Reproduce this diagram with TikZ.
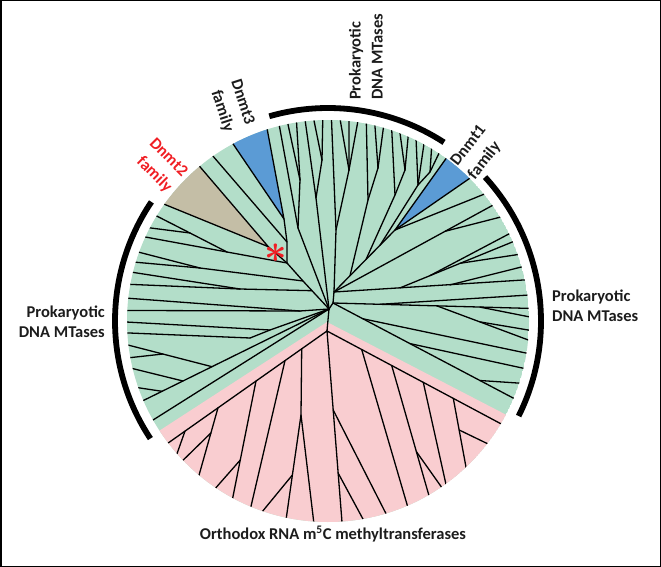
\documentclass[tikz,border=0pt]{standalone}
\usepackage{fontspec}
\setmainfont{Carlito}
\usetikzlibrary{calc}
\definecolor{grn}{RGB}{179,222,201}
\definecolor{pnk}{RGB}{249,205,208}
\definecolor{blu}{RGB}{91,155,213}
\definecolor{tanw}{RGB}{196,190,166}
\definecolor{redl}{RGB}{240,30,36}
\definecolor{ink}{RGB}{28,28,28}
\newcommand\lfat[2]{\path (O) ++(#2:201pt) coordinate (#1);}
\begin{document}
\begin{tikzpicture}[x=1pt,y=-1pt,
  br/.style={line width=1.3pt, black, line cap=round, line join=round},
  lf/.style={br, shorten >=-7pt},
  bracket/.style={line width=5.8pt, black},
  lab/.style={font=\fontsize{16.5}{20}\selectfont\bfseries, text=ink, inner sep=0pt},
  rlab/.style={font=\fontsize{16.5}{22}\selectfont\bfseries, text=ink, inner sep=0pt}]
\useasboundingbox (0,0) rectangle (661,567);
\draw[line width=1.5pt] (0.75,0.75) rectangle (660.25,566.25);
\coordinate (O) at (328,321);
% core
\coordinate (R0) at (329,309);
\coordinate (Rr) at (333,303);
\coordinate (UR0) at (334,292);
\coordinate (P) at (327,331);
% pink clade
\coordinate (PL) at (170,441.7);
\coordinate (B1) at (301.7,348.8);
\coordinate (B1a) at (301,415);
\coordinate (B1b) at (292.4,475);
\coordinate (B2) at (285,360.6);
\coordinate (B3) at (256,381);
\coordinate (B3a) at (240.3,460);
\coordinate (B4) at (218,407.8);
\coordinate (B4a) at (210.9,433);
\coordinate (B5) at (185,431.1);
\coordinate (pk1) at (313.3,518.3);
\coordinate (pk2) at (286.7,515);
\coordinate (pk3) at (265,508.3);
\coordinate (pk4) at (251.7,503.3);
\coordinate (pk5) at (233.3,495);
\coordinate (pk6) at (218.3,485);
\coordinate (pk7) at (200,471.7);
\coordinate (pk8) at (185,458.3);
\coordinate (pk9) at (178.3,450);
\coordinate (pkc) at (341.7,518.3);
\coordinate (Cc1) at (333.2,410);
\coordinate (Cc2) at (338.1,473);
\coordinate (pk10) at (385,511.7);
\coordinate (pk11) at (361.7,516.7);
\coordinate (PR) at (500,423.3);
\coordinate (R1) at (361.7,349.5);
\coordinate (R2) at (391.7,365.5);
\coordinate (R2a) at (416.4,451.7);
\coordinate (R3) at (423.3,382.4);
\coordinate (R4) at (453.3,398.4);
\coordinate (R4a) at (459.2,430);
\coordinate (pk12) at (406.7,503.3);
\coordinate (pk13) at (428.3,493.3);
\coordinate (pk14) at (440,485);
\coordinate (pk15) at (445,480);
\coordinate (pk16) at (465,461.7);
\coordinate (pk17) at (486.7,443.3);
% upper left
\coordinate (Tn) at (268.3,246.7);
\coordinate (M2) at (287,263);
\coordinate (M1) at (303,281);
\coordinate (Mx) at (312,290.7);
\coordinate (D1n) at (287,242);
\coordinate (B3ap) at (284,219);
\coordinate (Na) at (227,252);
\coordinate (Nb) at (190,233);
\coordinate (Nd) at (200,268);
\coordinate (Ne) at (240,289);
\coordinate (H0) at (300,311);
\coordinate (H1) at (270,330);
\coordinate (H2) at (250,338);
\coordinate (Q1) at (212,366.7);
\coordinate (Q1b) at (163,354);
\coordinate (Q2) at (183,381);
\coordinate (Q3) at (162,391.3);
\lfat{l125}{124.9}\lfat{l148}{148.5}\lfat{l152}{152.4}\lfat{l155}{155.3}
\lfat{l160}{160}\lfat{l163}{163}\lfat{l166}{166}\lfat{l169}{169.5}
\lfat{l173}{173.5}\lfat{l177}{177}\lfat{l180}{180.3}\lfat{l183}{183.4}
\lfat{l187}{186.9}\lfat{l190}{190.5}\lfat{l194}{193.7}\lfat{l199}{199.4}
\lfat{l203}{203.3}\lfat{l209}{209.5}
% top
\lfat{ta}{104}\lfat{tb}{101.5}\lfat{tc}{99}\lfat{td}{96.5}\lfat{te}{94}
\lfat{tf}{91.5}\lfat{tg}{89}\lfat{th}{86.5}\lfat{ti}{84}\lfat{tj}{81.5}
\lfat{tk}{79}\lfat{tl}{76.5}\lfat{tm}{74}\lfat{tn}{71.5}\lfat{to}{69}
\lfat{tp}{66.5}\lfat{tq}{64}\lfat{tr}{61.5}\lfat{ts}{59}\lfat{tt}{56.5}
\coordinate (Tl) at (298,228);
\coordinate (Tl2) at (300,180);
\coordinate (Tm) at (316,198);
\coordinate (Tm2) at (322,160);
\coordinate (Tr) at (336,230);
\coordinate (Tr2) at (349,170);
\coordinate (U1) at (395,230);
\coordinate (Ua) at (350,275.7);
\coordinate (Ub) at (366,259.5);
\coordinate (Uc) at (380,245.3);
\coordinate (Ua2) at (368,200);
\coordinate (Ua3) at (378,168);
\coordinate (Ub2) at (395,195);
\coordinate (Ub3) at (405,170);
\coordinate (Uc2) at (418,185);
\coordinate (Uc3) at (430,172);
% right
\lfat{r39}{39.1}\lfat{r35}{35.1}\lfat{r31}{31.1}\lfat{r26}{25.7}\lfat{r23}{23.2}
\lfat{r19}{19.3}\lfat{r16}{15.6}\lfat{r12}{11.8}\lfat{r7}{7.4}\lfat{r4}{3.6}
\lfat{r1}{1.2}\lfat{rm3}{-2.6}\lfat{rm5}{-5.4}\lfat{rm9}{-9.2}\lfat{rm14}{-13.6}
\lfat{rm18}{-18}\lfat{rm23}{-22.6}
\coordinate (Va) at (445,231.3);
\coordinate (Wb1) at (400,287.9);
\coordinate (Wb2) at (450,284.9);
\coordinate (Wc) at (430,275.6);
\coordinate (Wd) at (460,263.3);
\coordinate (Hn0) at (380,304.3);
\coordinate (Hn1) at (437,305.9);
\coordinate (Hn1b) at (480,321.9);
\coordinate (Hn4) at (480,307.1);
\coordinate (On1) at (363,318.8);
\coordinate (On2) at (410,343.6);
\coordinate (On3) at (480,380.5);
% wedge corners
\lfat{d1c1}{54}\lfat{d1c2}{45.2}
\lfat{d3c1}{118.2}\lfat{d3c2}{107.6}
\lfat{tnc1}{144.5}\lfat{tnc2}{129.7}

\begin{scope}
\clip (O) circle[radius=201pt];
\fill[grn] (O) circle[radius=201pt];
\fill[pnk] (327,322) -- (81,481.5) -- (81,640) -- (600,640) -- (591.5,459) -- cycle;
\fill[blu] (U1) -- ($(U1)!1.3!(d1c1)$) -- ($(U1)!1.3!(d1c2)$) -- cycle;
\fill[blu] (B3ap) -- ($(B3ap)!1.3!(d3c1)$) -- ($(B3ap)!1.3!(d3c2)$) -- cycle;
\fill[tanw] (Tn) -- ($(Tn)!1.3!(tnc1)$) -- ($(Tn)!1.3!(tnc2)$) -- cycle;
\draw[br] ($(U1)!1.3!(d1c1)$) -- (U1) -- ($(U1)!1.3!(d1c2)$);
\draw[br] ($(B3ap)!1.3!(d3c1)$) -- (B3ap) -- ($(B3ap)!1.3!(d3c2)$);
\draw[br] ($(Tn)!1.3!(tnc1)$) -- (Tn) -- ($(Tn)!1.3!(tnc2)$);
% pink tree
\draw[br] (R0) -- (P);
\draw[lf] (P) -- (PL);
\draw[lf] (B1) -- (B1a) -- (B1b) -- (pk2);
\draw[lf] (B1a) -- (pk1);
\draw[lf] (B1b) -- (pk3);
\draw[lf] (B2) -- (pk4);
\draw[lf] (B3) -- (pk5);
\draw[lf] (B3a) -- (pk6);
\draw[lf] (B4) -- (pk7);
\draw[lf] (B4a) -- (pk8);
\draw[lf] (B5) -- (pk9);
\draw[lf] (P) -- (pkc);
\draw[lf] (Cc1) -- (pk10);
\draw[lf] (Cc2) -- (pk11);
\draw[lf] (P) -- (PR);
\draw[lf] (R1) -- (pk12);
\draw[lf] (R2) -- (pk13);
\draw[lf] (R2a) -- (pk14);
\draw[lf] (R3) -- (pk15);
\draw[lf] (R4) -- (pk16);
\draw[lf] (R4a) -- (pk17);
% upper left
\draw[br] (Tn) -- (M2) -- (M1) -- (R0);
\draw[br] (M2) -- (D1n) -- (B3ap);
\draw[lf] (D1n) -- (l125);
\draw[br] (M2) -- (Na) -- (Nb);
\draw[lf] (Nb) -- (l148);
\draw[lf] (Nb) -- (l152);
\draw[lf] (Na) -- (l155);
\draw[br] (M1) -- (Nd);
\draw[lf] (Nd) -- (l160);
\draw[lf] (Nd) -- (l163);
\draw[br] (Mx) -- (Ne);
\draw[lf] (Ne) -- (l166);
\draw[lf] (Ne) -- (l169);
\draw[br] (R0) -- (H0);
\draw[lf] (H0) -- (l173);
\draw[lf] (H0) -- (l177);
\draw[br] (R0) -- (H1) -- (H2);
\draw[lf] (H1) -- (l180);
\draw[lf] (H2) -- (l183);
\draw[lf] (R0) -- (l203);
\draw[lf] (Q1) -- (l187);
\draw[lf] (Q1b) -- (l190);
\draw[lf] (Q2) -- (l194);
\draw[lf] (Q3) -- (l199);
\draw[lf] (R0) -- (l209);
% top
\draw[br] (R0) -- (Tl) -- (Tl2);
\draw[lf] (Tl) -- (ta);
\draw[lf] (Tl2) -- (tb);
\draw[lf] (Tl2) -- (tc);
\draw[br] (R0) -- (Tm) -- (Tm2);
\draw[lf] (Tm) -- (td);
\draw[lf] (Tm2) -- (te);
\draw[lf] (Tm2) -- (tf);
\draw[br] (UR0) -- (Tr) -- (Tr2);
\draw[lf] (Tr) -- (tg);
\draw[lf] (Tr2) -- (th);
\draw[lf] (Tr2) -- (ti);
\draw[lf] (Tr2) -- (tj);
\draw[br] (R0) -- (Rr) -- (UR0) -- (U1);
\draw[br] (Ua) -- (Ua2) -- (Ua3);
\draw[lf] (Ua2) -- (tk);
\draw[lf] (Ua3) -- (tl);
\draw[lf] (Ua3) -- (tm);
\draw[br] (Ub) -- (Ub2) -- (Ub3);
\draw[lf] (Ub2) -- (tn);
\draw[lf] (Ub3) -- (to);
\draw[lf] (Ub3) -- (tp);
\draw[br] (Uc) -- (Uc2) -- (Uc3);
\draw[lf] (Uc2) -- (tq);
\draw[lf] (Uc2) -- (tr);
\draw[lf] (Uc3) -- (ts);
\draw[lf] (Uc3) -- (tt);
% right
\draw[lf] (U1) -- (r39);
\draw[lf] (UR0) -- (r35);
\draw[lf] (Va) -- (r31);
\draw[lf] (UR0) -- (r12);
\draw[lf] (Wb1) -- (r23);
\draw[lf] (Wc) -- (r26);
\draw[lf] (Wd) -- (r19);
\draw[lf] (Wb2) -- (r16);
\draw[lf] (Rr) -- (r4);
\draw[lf] (Hn0) -- (r7);
\draw[lf] (Hn1) -- (rm5);
\draw[lf] (Hn1b) -- (rm3);
\draw[lf] (Hn4) -- (r1);
\draw[lf] (Rr) -- (rm23);
\draw[lf] (On1) -- (rm9);
\draw[lf] (On2) -- (rm14);
\draw[lf] (On3) -- (rm18);
\end{scope}

% brackets
\draw[bracket] (O) ++(57:213pt) arc[start angle=57, end angle=106, radius=213pt];
\draw[bracket] (O) ++(-26.5:213pt) arc[start angle=-26.5, end angle=42.5, radius=213pt];
\draw[bracket] (O) ++(146:213pt) arc[start angle=146, end angle=213.5, radius=213pt];

% labels
\node[rlab, rotate=90, anchor=west, align=left] (topl) at (366,100) {Prokaryotic\\DNA MTases};
\node[lab, anchor=east, align=right] (leftl) at (105,322) {Prokaryotic\\DNA MTases};
\node[lab, anchor=west, align=left] (rightl) at (552,306) {Prokaryotic\\DNA MTases};
\node[lab] (botl) at (333,534) {Orthodox RNA m\textsuperscript{5}C methyltransferases};
\node[rlab, rotate=-72, anchor=east, align=right] (d3l) at (239,128) {Dnmt3\\family};
\node[rlab, rotate=-45, anchor=east, align=right, text=redl] (d2l) at (177,182) {Dnmt2\\family};
\node[rlab, rotate=52, anchor=west, align=left] (d1l) at (463,171) {Dnmt1\\family};
\node[text=redl, inner sep=0pt] (ast) at (276,253) {\scalebox{1.9}{\fontsize{20}{20}\selectfont\boldmath$\ast$}};
\end{tikzpicture}
\end{document}
